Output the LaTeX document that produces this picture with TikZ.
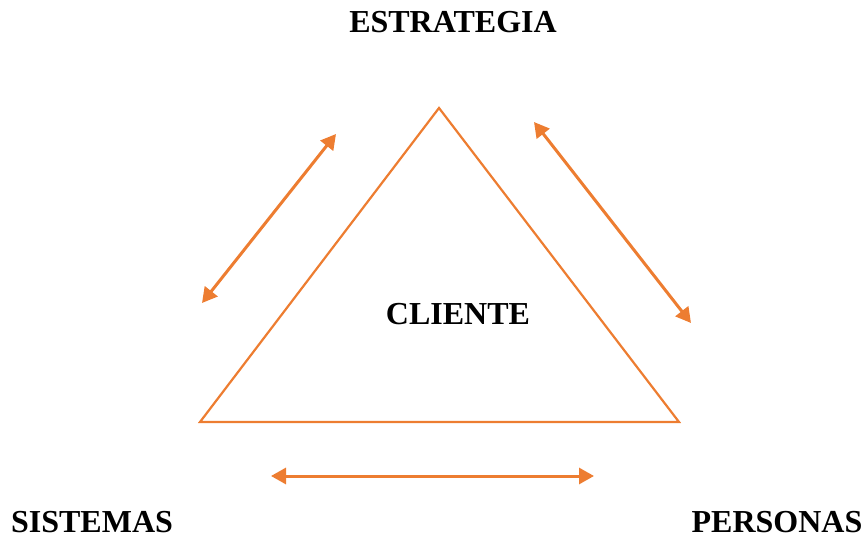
\documentclass[tikz,border=0pt]{standalone}
\usepackage{fontspec}
\setmainfont{Liberation Serif}
\usetikzlibrary{arrows.meta}
\definecolor{naranja}{HTML}{ED7D31}
\tikzset{
  lado/.style = {draw = naranja, line width = 2.2pt},
  flecha/.style = {naranja, line width = 3pt, {Triangle[length=15pt,width=16pt]}-{Triangle[length=15pt,width=16pt]}},
  rotulo/.style = {font = \fontsize{32}{38}\selectfont\bfseries}
}
\begin{document}
\begin{tikzpicture}[x = 1pt, y = -1pt]
      \useasboundingbox (0,0) rectangle (865,540);
      \coordinate (cima) at (439,108);
      \coordinate (izq) at (200,422);
      \coordinate (der) at (679,422);
      \draw [lado, line join = miter] (cima) -- (izq) -- (der) -- cycle;
      \coordinate (a1) at (336,134);
      \coordinate (a2) at (202,303);
      \coordinate (b1) at (534,122);
      \coordinate (b2) at (691,323);
      \coordinate (c1) at (271,476);
      \coordinate (c2) at (594,476);
      \draw [flecha] (a1) -- (a2);
      \draw [flecha] (b1) -- (b2);
      \draw [flecha] (c1) -- (c2);
      \node [rotulo] (estrategia) at (453,22) {ESTRATEGIA};
      \node [rotulo] (cliente) at (458,314) {CLIENTE};
      \node [rotulo] (sistemas) at (92,522) {SISTEMAS};
      \node [rotulo] (personas) at (777,522) {PERSONAS};
    \end{tikzpicture}
\end{document}
